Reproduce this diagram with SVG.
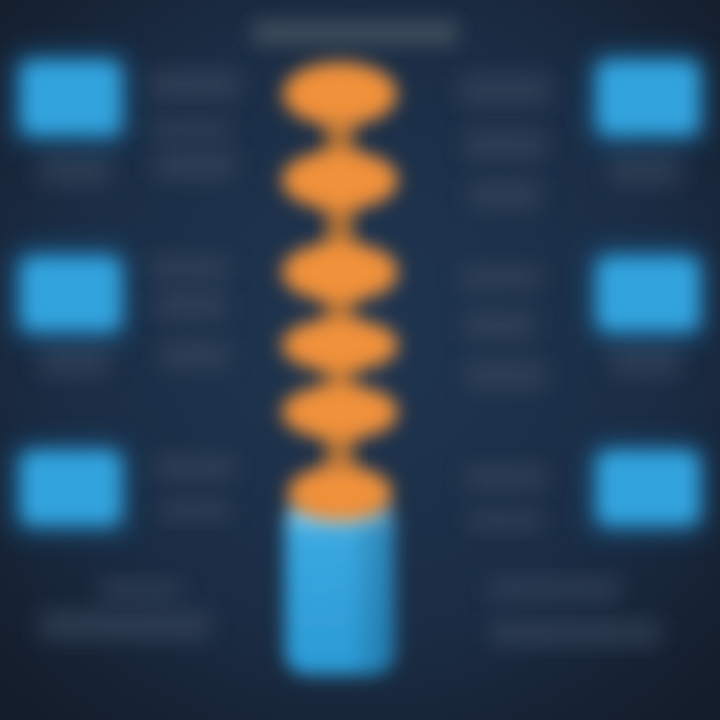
<svg xmlns="http://www.w3.org/2000/svg" width="720" height="720" viewBox="0 0 720 720">
<defs>
<radialGradient id="bg" cx="50%" cy="45%" r="70%">
<stop offset="0" stop-color="#1f3550"/>
<stop offset="0.6" stop-color="#1b2d45"/>
<stop offset="1" stop-color="#141d2b"/>
</radialGradient>
<linearGradient id="cyl" x1="0" y1="0" x2="0" y2="1">
<stop offset="0" stop-color="#9ad6f2"/>
<stop offset="0.2" stop-color="#3aa8e0"/>
<stop offset="1" stop-color="#2a9ad6"/>
</linearGradient>
<linearGradient id="cylx" x1="0" y1="0" x2="1" y2="0">
<stop offset="0" stop-color="#000" stop-opacity="0"/>
<stop offset="0.6" stop-color="#000" stop-opacity="0"/>
<stop offset="1" stop-color="#0a3a6a" stop-opacity="0.35"/>
</linearGradient>
<filter id="b8" x="-50%" y="-50%" width="200%" height="200%"><feGaussianBlur stdDeviation="11"/></filter>
<filter id="b6" x="-50%" y="-50%" width="200%" height="200%"><feGaussianBlur stdDeviation="9"/></filter>
<filter id="b10" x="-50%" y="-50%" width="200%" height="200%"><feGaussianBlur stdDeviation="13"/></filter>
</defs>
<style>
.box{fill:#30a3dd;filter:url(#b6)}
.glow{fill:#1f6fa8;filter:url(#b10);opacity:0.6}
.ell{fill:#f0913a;filter:url(#b6)}
.g{fill:#34455a;filter:url(#b8);opacity:0.7}
.link{fill:#c67a34;filter:url(#b6);opacity:0.9}
</style>
<rect width="720" height="720" fill="url(#bg)"/>
<rect x="252" y="20" width="206" height="26" rx="6" fill="#3b4858" filter="url(#b6)"/>
<g id="connectors">
<rect class="link" x="326" y="110" width="28" height="370"/>
</g>
<g id="left-col-text">
<rect class="g" x="150" y="70" width="90" height="30"/>
<rect class="g" x="150" y="120" width="80" height="20"/>
<rect class="g" x="155" y="150" width="80" height="30"/>
<rect class="g" x="40" y="155" width="70" height="30"/>
<rect class="g" x="150" y="255" width="80" height="25"/>
<rect class="g" x="155" y="290" width="70" height="30"/>
<rect class="g" x="160" y="340" width="70" height="30"/>
<rect class="g" x="40" y="345" width="70" height="30"/>
<rect class="g" x="155" y="455" width="80" height="25"/>
<rect class="g" x="160" y="500" width="70" height="20"/>
<rect class="g" x="100" y="580" width="80" height="20"/>
<rect class="g" x="40" y="610" width="170" height="30"/>
</g>
<g id="right-col-text">
<rect class="g" x="460" y="75" width="90" height="30"/>
<rect class="g" x="465" y="130" width="80" height="30"/>
<rect class="g" x="470" y="180" width="70" height="30"/>
<rect class="g" x="610" y="155" width="70" height="30"/>
<rect class="g" x="460" y="265" width="80" height="25"/>
<rect class="g" x="465" y="310" width="70" height="30"/>
<rect class="g" x="465" y="360" width="80" height="30"/>
<rect class="g" x="610" y="345" width="70" height="30"/>
<rect class="g" x="465" y="465" width="80" height="25"/>
<rect class="g" x="470" y="510" width="70" height="20"/>
<rect class="g" x="490" y="578" width="130" height="22"/>
<rect class="g" x="490" y="620" width="170" height="25"/>
</g>
<g id="box-l1"><rect class="glow" x="12" y="52" width="116" height="92" rx="14"/><rect class="box" x="22" y="62" width="98" height="72" rx="12"/></g>
<g id="box-l2"><rect class="glow" x="12" y="248" width="116" height="92" rx="14"/><rect class="box" x="22" y="258" width="98" height="72" rx="12"/></g>
<g id="box-l3"><rect class="glow" x="12" y="444" width="116" height="90" rx="14"/><rect class="box" x="22" y="452" width="98" height="72" rx="12"/></g>
<g id="box-r1"><rect class="glow" x="590" y="52" width="116" height="92" rx="14"/><rect class="box" x="598" y="62" width="100" height="72" rx="12"/></g>
<g id="box-r2"><rect class="glow" x="590" y="248" width="116" height="92" rx="14"/><rect class="box" x="598" y="258" width="100" height="72" rx="12"/></g>
<g id="box-r3"><rect class="glow" x="590" y="444" width="116" height="90" rx="14"/><rect class="box" x="598" y="452" width="100" height="72" rx="12"/></g>
<g id="cylinder" filter="url(#b6)">
<rect x="285" y="500" width="110" height="175" rx="22" fill="url(#cyl)"/>
<rect x="285" y="500" width="110" height="175" rx="22" fill="url(#cylx)"/>
</g>
<g id="step1"><ellipse class="ell" cx="340" cy="94" rx="57" ry="32"/></g>
<g id="step2"><ellipse class="ell" cx="340" cy="180" rx="58" ry="30"/></g>
<g id="step3"><ellipse class="ell" cx="340" cy="272" rx="58" ry="30"/></g>
<g id="step4"><ellipse class="ell" cx="340" cy="345" rx="58" ry="27"/></g>
<g id="step5"><ellipse class="ell" cx="340" cy="412" rx="58" ry="28"/></g>
<g id="step6"><ellipse class="ell" cx="340" cy="493" rx="52" ry="28"/></g>
</svg>
